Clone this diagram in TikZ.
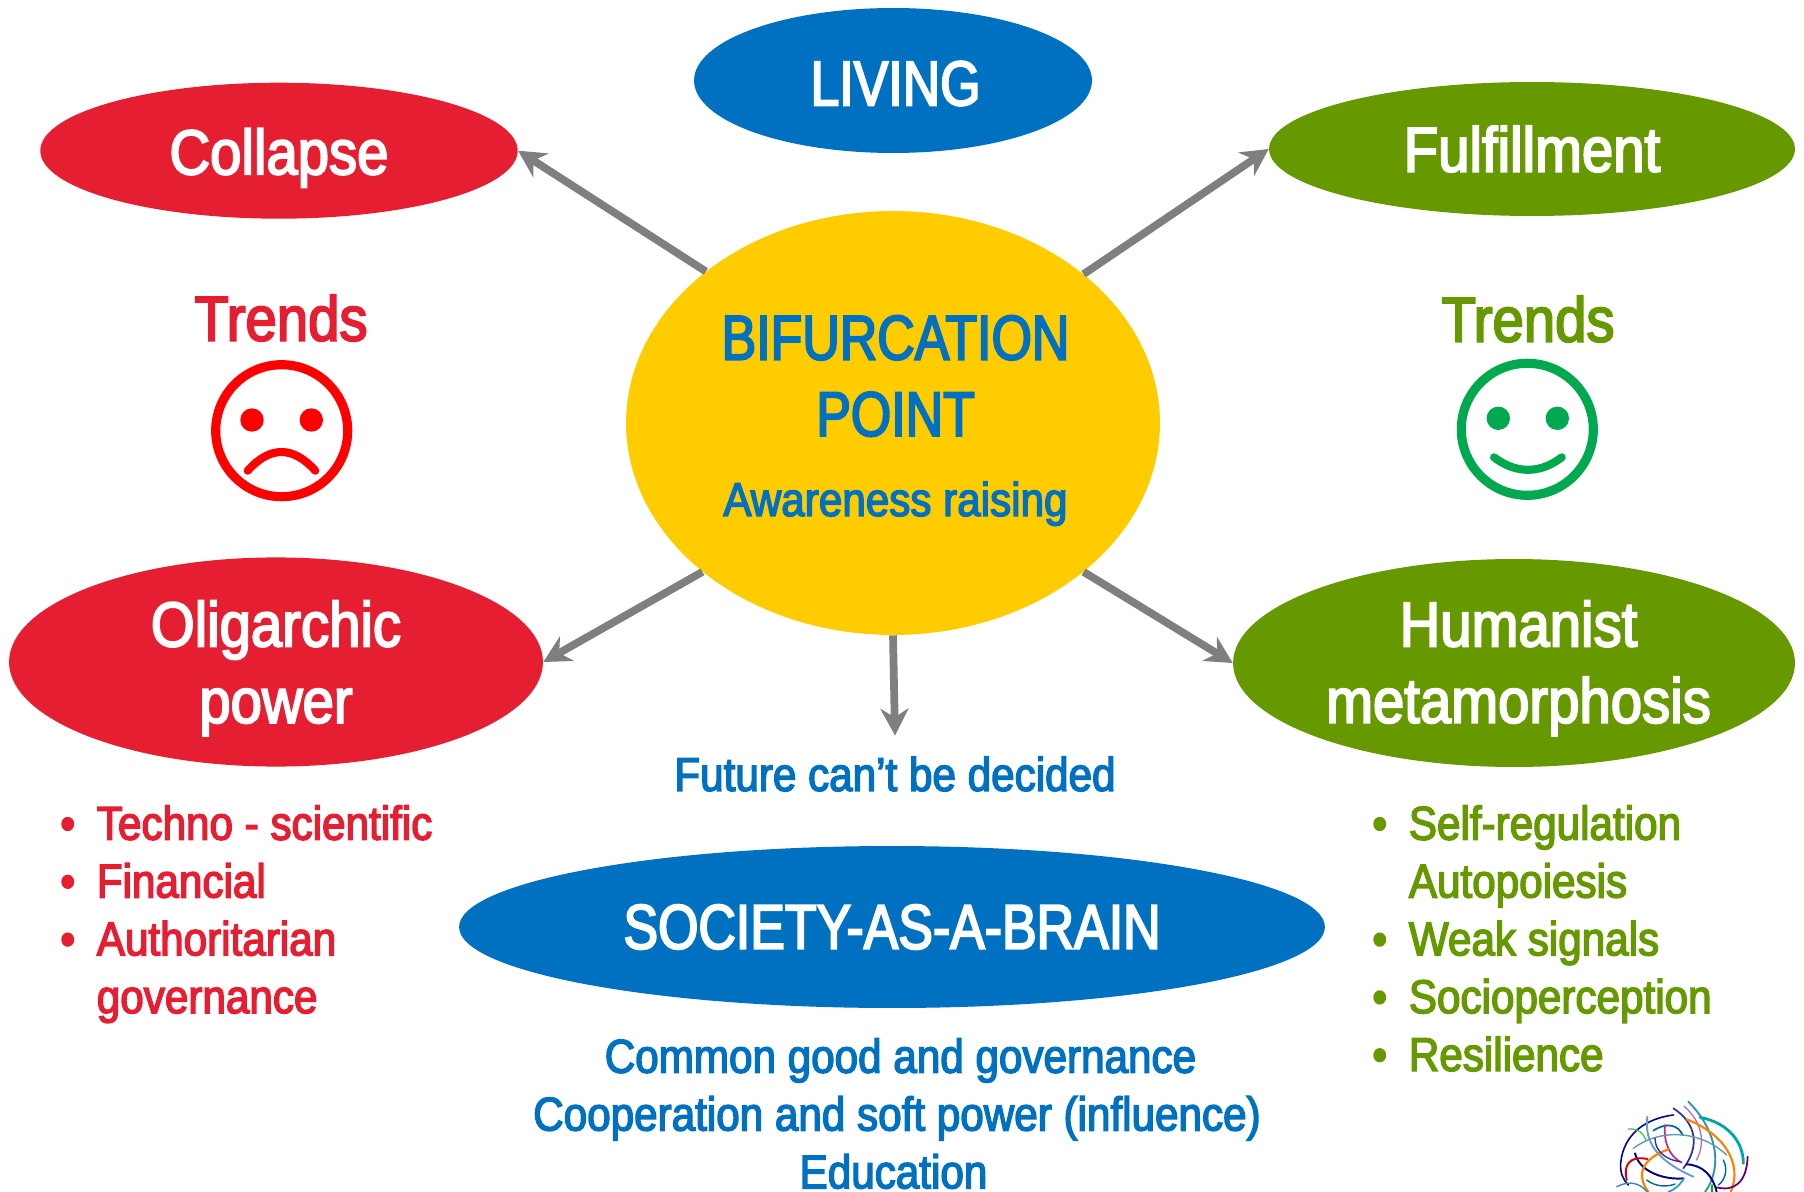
\documentclass[tikz,border=0pt]{standalone}
\usepackage{fontspec}
\setmainfont[FakeStretch=0.89,FakeBold=3]{Liberation Sans}
\newfontfamily\capsfont[FakeStretch=0.82,FakeBold=3]{Liberation Sans}
\usetikzlibrary{arrows.meta, positioning, shapes.geometric}

\definecolor{redtone}{HTML}{E51E32}
\definecolor{bluetone}{HTML}{0070C0}
\definecolor{greentone}{HTML}{669900}
\definecolor{yellowtone}{HTML}{FFCC00}
\definecolor{arrowgrey}{HTML}{7F7F7F}
\definecolor{sadred}{HTML}{FF0000}
\definecolor{smilegreen}{HTML}{00A84F}

\newcommand{\bigtext}{\fontsize{36}{43.5}\selectfont}
\newcommand{\smalltext}{\fontsize{27}{32.9}\selectfont}
\newcommand{\bulletline}[1]{\makebox[0.73cm][l]{\textbullet}#1}
\newcommand{\plainline}[1]{\makebox[0.73cm][l]{}#1}

\begin{document}
\begin{tikzpicture}[
    x=0.02cm, y=-0.02cm,
    % Define oval style
    oval style/.style={
        ellipse, % Ellipse shape
        inner sep=0pt,
        text=white,
        align=center,
        font=\bigtext
      },
    % Define label style
    label style/.style={
        inner sep=0pt,
        align=center,
        font=\smalltext
      },
    % Define list style
    list style/.style={
        inner sep=0pt,
        anchor=north west,
        align=left,
        font=\smalltext
      },
    % Define arrow style
    arrow style/.style={
        draw=arrowgrey,
        line width=4.4pt,
        -{Stealth[length=0.54cm,width=0.56cm]}
      },
    % Define face style
    face style/.style={line width=#1, line cap=round}
  ]
  \useasboundingbox (0,0) rectangle (1804,1192);

  % Define nodes
  \node[oval style, fill=yellowtone, text=bluetone, minimum width=10.68cm, minimum height=8.48cm, text depth=8.3pt] (Bifurcation) at (893,423)
    {\hspace*{0.1cm}\capsfont BIFURCATION\\\hspace*{0.1cm}\capsfont POINT\\[2pt]\hspace*{0.1cm}{\smalltext Awareness raising}};
  \node[oval style, fill=bluetone, minimum width=7.96cm, minimum height=2.9cm, text height=28.6pt] (Living) at (893,80.5) {\hspace*{0.1cm}\capsfont LIVING};
  \node[oval style, fill=redtone, minimum width=9.55cm, minimum height=2.72cm, text height=34.3pt] (Collapse) at (279,150.7) {Collapse};
  \node[oval style, fill=greentone, minimum width=10.52cm, minimum height=2.68cm] (Fulfillment) at (1532,149) {Fulfillment};
  \node[oval style, fill=redtone, minimum width=10.68cm, minimum height=4.16cm, text height=76.7pt] (Oligarchic) at (276,662) {Oligarchic\\power};
  \node[oval style, fill=greentone, minimum width=11.24cm, minimum height=4.16cm, text height=75.5pt] (Humanist) at (1514,663) {\hspace*{0.18cm}Humanist\\\hspace*{0.18cm}metamorphosis};
  \node[oval style, fill=bluetone, minimum width=17.32cm, minimum height=3.24cm] (Society) at (892,927) {\capsfont SOCIETY-AS-A-BRAIN};

  \node[label style, text=redtone, font=\bigtext] (TrendsBad) at (281,318) {Trends};
  \node[label style, text=greentone, font=\bigtext] (TrendsGood) at (1528,319) {Trends};
  \node[label style, text=bluetone, outer ysep=0.42cm] (Future) at (895,774) {Future can’t be decided};

  % Lists below the ovals
  \node[list style, text=redtone] (ListBad) at (60,805) {\bulletline{Techno - scientific}\\\bulletline{Financial}\\\bulletline{Authoritarian}\\\plainline{governance}};
  \node[list style, text=greentone] (ListGood) at (1372,805) {\bulletline{Self-regulation}\\\plainline{Autopoiesis}\\\bulletline{Weak signals}\\\bulletline{Socioperception}\\\bulletline{Resilience}};
  \node[label style, text=bluetone, anchor=north] (ListBrain) at (897,1038) {\hspace*{0.14cm}Common good and governance\\Cooperation and soft power (influence)\\\hspace*{-0.14cm}Education};

  % Draw arrows
  \draw[arrow style] (Bifurcation.141.7) -- (Collapse.east);
  \draw[arrow style] (Bifurcation.38.3) -- (Fulfillment.west);
  \draw[arrow style] (Bifurcation.218.2) -- (Oligarchic.east);
  \draw[arrow style] (Bifurcation.-38.2) -- (Humanist.west);
  \draw[arrow style] (Bifurcation.south) -- (Future.north);

  % Sad face
  \draw[sadred, line width=5.2pt] (281.7,430.7) circle (66);
  \fill[sadred] (252,420) circle (11.7) (311.3,420) circle (11.7);
  \draw[sadred, face style=4.6pt] (247.7,470.7) .. controls (270,445.8) and (293,445.8) .. (315.3,470.7);

  % Happy face
  \draw[smilegreen, line width=5.2pt] (1527.3,429.3) circle (66);
  \fill[smilegreen] (1498.3,418.3) circle (11.7) (1557.3,418.3) circle (11.7);
  \draw[smilegreen, face style=4.6pt] (1494,457.3) .. controls (1516,474) and (1540,474) .. (1561.7,457.3);

  % Brain mark, in the corner
  \begin{scope}[shift={(1560,1060)}, x=0.00667cm, y=-0.00667cm, line cap=round]
    \draw[blue!60!black, line width=0.9pt] (340,165) .. controls (260,175) and (190,220) .. (182,310) .. controls (180,340) and (190,360) .. (205,375);
    \draw[cyan!50!blue!60, line width=1.1pt] (262,170) .. controls (250,260) and (310,310) .. (400,350);
    \draw[green!60!black!70, line width=0.7pt] (205,207) .. controls (235,205) and (250,220) .. (258,240);
    \draw[teal!80!blue, line width=1pt] (280,212) .. controls (320,185) and (355,195) .. (368,225);
    \draw[magenta!80!black, line width=1pt] (315,195) .. controls (310,250) and (330,290) .. (365,308);
    \draw[blue!50!black!80, line width=1pt] (340,145) .. controls (410,190) and (420,260) .. (370,325);
    \draw[violet!60, line width=0.7pt] (372,138) .. controls (430,190) and (435,250) .. (410,300);
    \draw[cyan!70!black, line width=1.1pt] (385,125) .. controls (470,210) and (490,320) .. (435,396);
    \draw[orange, line width=1.2pt] (380,178) .. controls (490,220) and (550,310) .. (512,396);
    \draw[teal!70!cyan, line width=1.6pt] (420,172) .. controls (510,190) and (550,250) .. (550,310);
    \draw[violet!80!black, line width=1pt] (563,290) .. controls (560,370) and (520,395) .. (470,382);
    \draw[blue!50!black, line width=1.1pt] (225,280) .. controls (240,340) and (320,360) .. (370,355);
    \draw[blue!50!black, line width=1.1pt] (380,313) .. controls (430,315) and (460,350) .. (470,396);
    \draw[orange, line width=1.2pt] (325,268) .. controls (250,295) and (225,340) .. (265,396);
    \draw[red!85!black, line width=1.1pt] (262,297) .. controls (205,285) and (190,320) .. (200,360);
    \draw[cyan!60!black!80, line width=0.8pt] (220,265) .. controls (300,205) and (420,210) .. (500,285);
    \draw[teal!80!blue, line width=0.8pt] (260,360) .. controls (285,380) and (320,382) .. (345,372);
    \draw[cyan!60!black, line width=0.8pt] (170,380) .. controls (210,360) and (240,370) .. (262,396);
    \draw[cyan!80!black, line width=1pt] (372,355) .. controls (360,375) and (345,388) .. (325,396);
    \draw[teal!80!blue, line width=0.8pt] (490,300) .. controls (505,330) and (495,360) .. (475,375);
    \draw[green!70!black, line width=0.9pt] (456,375) -- (456,396);
    \draw[blue!50!black!80, line width=0.8pt] (285,235) .. controls (285,275) and (320,300) .. (360,305);
  \end{scope}

\end{tikzpicture}
\end{document}
